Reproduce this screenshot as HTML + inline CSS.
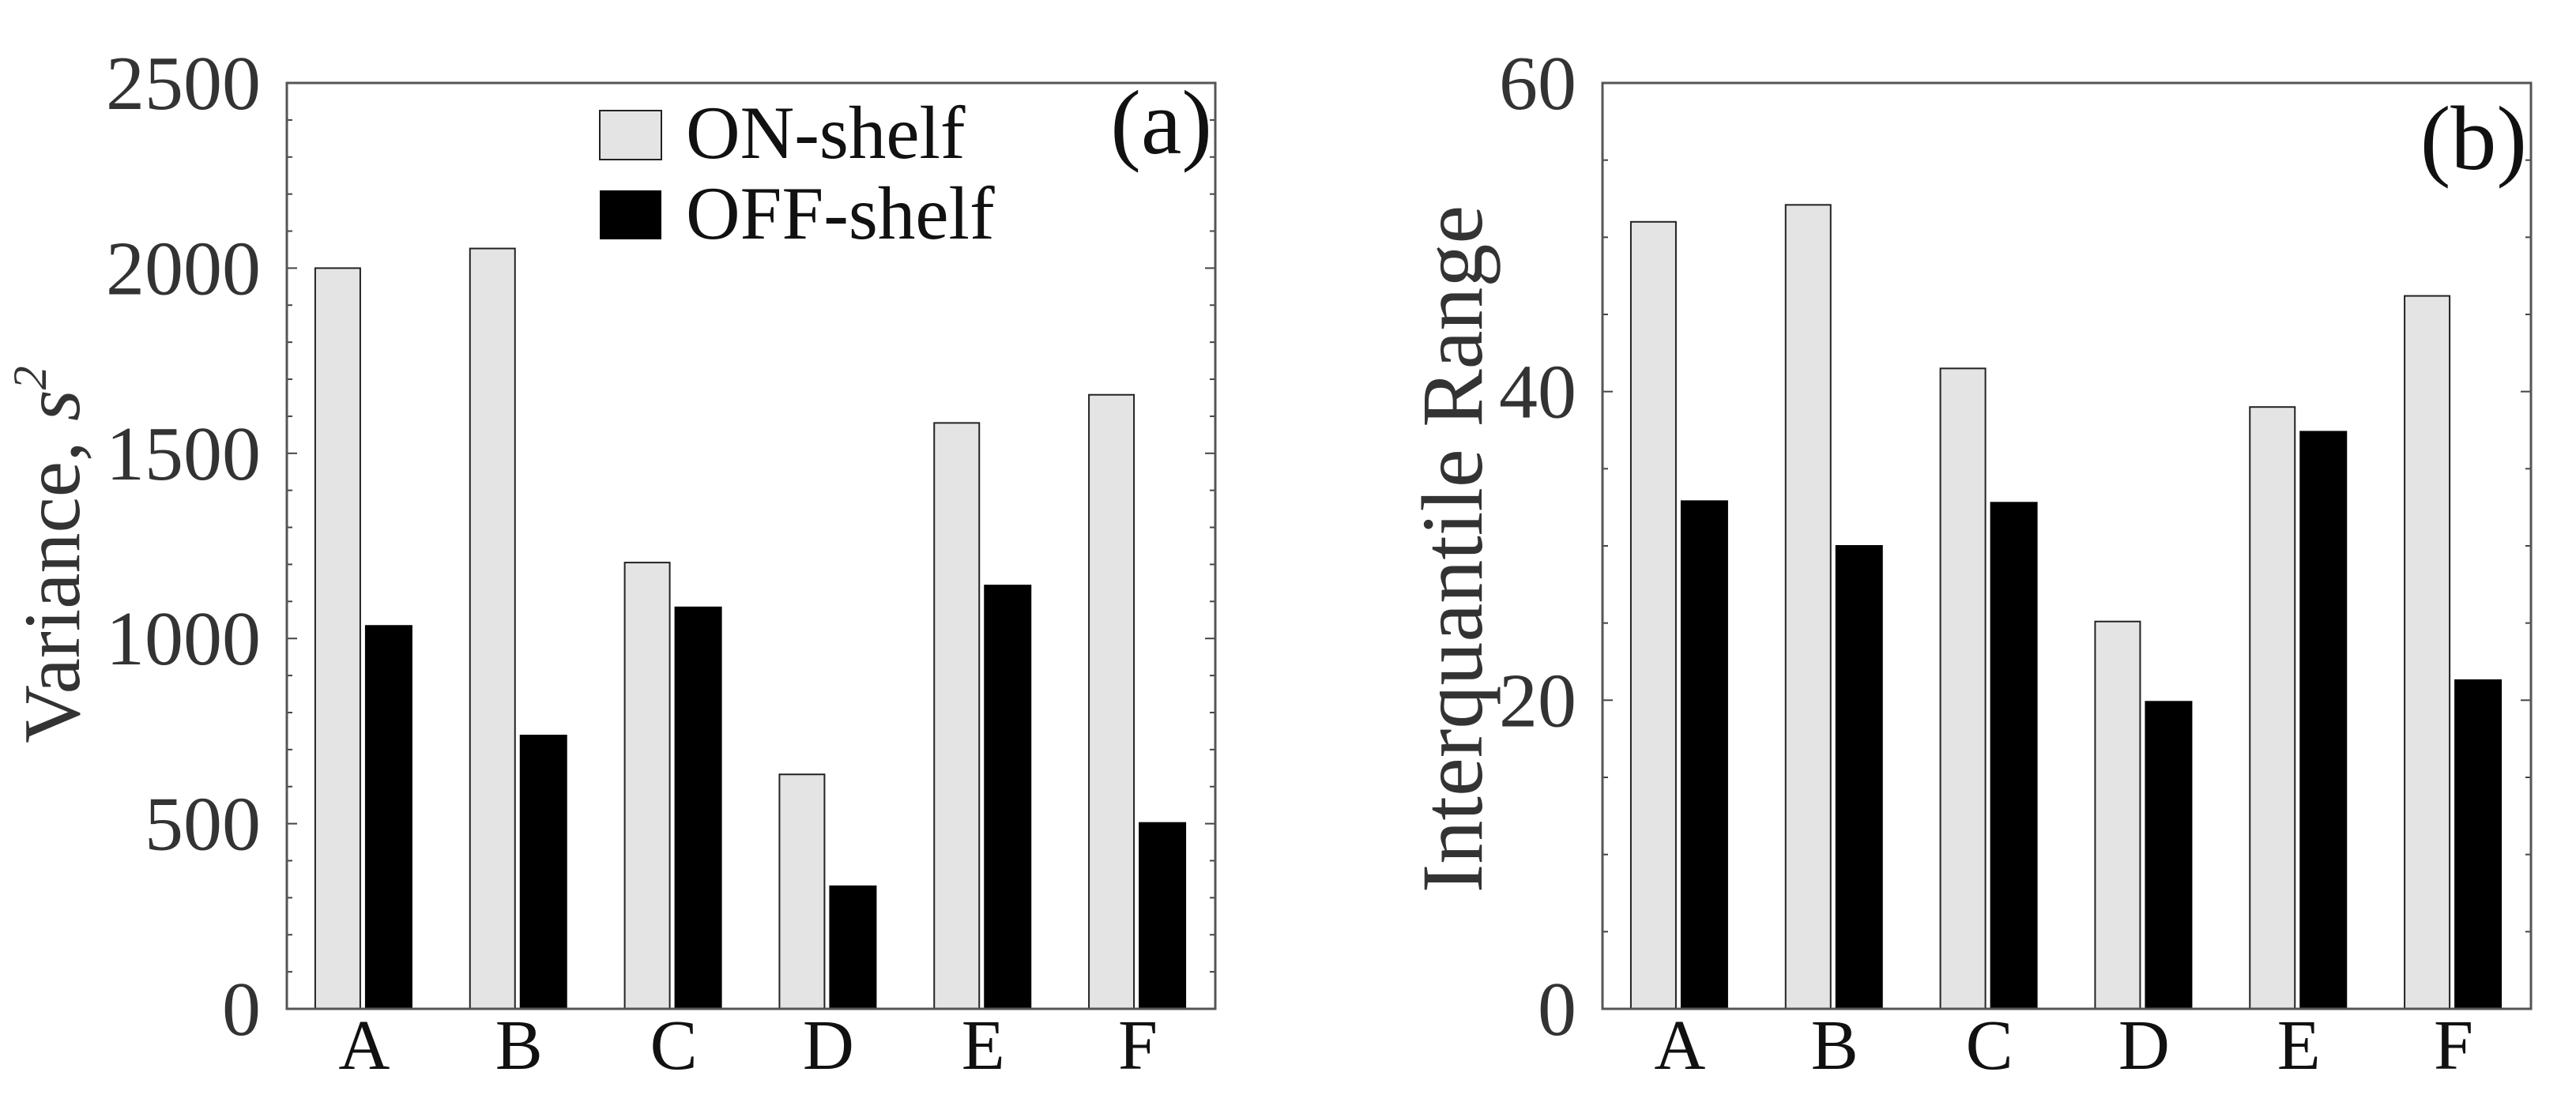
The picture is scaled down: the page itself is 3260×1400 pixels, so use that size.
<!DOCTYPE html>
<html><head><meta charset="utf-8"><style>
html,body{margin:0;padding:0;background:#fff;}
svg{display:block;}
text{font-family:"Liberation Serif",serif;}
</style></head><body>
<svg id="chart" width="3260" height="1400" viewBox="0 0 3260 1400" xmlns="http://www.w3.org/2000/svg"></svg>
<script>
const categories = ['A','B','C','D','E','F'];
const varianceOn = [2000, 2053, 1205, 633, 1582, 1658];
const varianceOff = [1034, 738, 1084, 331, 1143, 502];
const iqrOn = [51.0, 52.1, 41.5, 25.1, 39.0, 46.2];
const iqrOff = [32.9, 30.0, 32.8, 19.9, 37.4, 21.3];
const varianceTicks = [0, 500, 1000, 1500, 2000, 2500];
const iqrTicks = [0, 20, 40, 60];

const NS = 'http://www.w3.org/2000/svg';
const svg = document.getElementById('chart');
function mk(tag, attrs, parent) {
  const e = document.createElementNS(NS, tag);
  for (const k in attrs) e.setAttribute(k, attrs[k]);
  (parent || svg).appendChild(e);
  return e;
}

function panel(opts) {
  const g = mk('g', {});
  
  
  const L = opts.left, R = opts.right, T = 105, B = 1277;
  const y = v => B - (v - opts.min) / (opts.max - opts.min) * (B - T);
  const step = (R - L) / categories.length;
  const cx = i => L + step * (i + 0.5);
  categories.forEach((c, i) => {
    const on = mk('rect', {x: cx(i) - 62, y: y(opts.on[i]), width: 57, height: B - y(opts.on[i]), fill: '#e4e4e4', stroke: '#222', 'stroke-width': 2}, g);
    
    
    const off = mk('rect', {x: cx(i) + 2, y: y(opts.off[i]), width: 58, height: B - y(opts.off[i]), fill: '#000', stroke: '#000', 'stroke-width': 2}, g);
    
    
    const t = mk('text', {x: cx(i), y: 1353, 'font-size': 90, 'text-anchor': 'middle', fill: '#111'}, g);
    t.textContent = c;
    
    
  });
  for (let v = opts.min; v <= opts.max + 1e-9; v += opts.minor) {
    const major = Math.abs(v / opts.majorStep - Math.round(v / opts.majorStep)) < 1e-6;
    const len = major ? 13 : 7;
    mk('line', {x1: L, x2: L + len, y1: y(v), y2: y(v), stroke: '#444', 'stroke-width': 2}, g);
    mk('line', {x1: R, x2: R - len, y1: y(v), y2: y(v), stroke: '#444', 'stroke-width': 2}, g);
  }
  opts.ticks.forEach(v => {
    const t = mk('text', {x: L - 33, y: y(v) + 33, 'font-size': 98, 'text-anchor': 'end', fill: '#333'}, g);
    t.textContent = v;
    
    
  });
  const frame = mk('rect', {x: L, y: T, width: R - L, height: B - T, fill: 'none', stroke: '#555', 'stroke-width': 3}, g);
  
  
  return {g, L, R, T, B};
}

const pa = panel({name: 'panel-a', left: 363, right: 1538, min: 0, max: 2500, minor: 100, majorStep: 500, ticks: varianceTicks, on: varianceOn, off: varianceOff});
const pb = panel({name: 'panel-b', left: 2028, right: 3203, min: 0, max: 60, minor: 5, majorStep: 20, ticks: iqrTicks, on: iqrOn, off: iqrOff});

let t = mk('text', {transform: 'translate(100,702) rotate(-90)', 'font-size': 102, 'text-anchor': 'middle', fill: '#333'});
t.innerHTML = 'Variance, <tspan font-style="italic">s</tspan><tspan font-size="60" dy="-42" font-style="italic">2</tspan>';


t = mk('text', {transform: 'translate(1875,695) rotate(-90)', 'font-size': 110, 'text-anchor': 'middle', fill: '#333'});
t.textContent = 'Interquantile Range';



t = mk('text', {x: 1534, y: 194, 'font-size': 116, 'text-anchor': 'end', fill: '#111'});
t.textContent = '(a)';


t = mk('text', {x: 3198, y: 214, 'font-size': 116, 'text-anchor': 'end', fill: '#111'});
t.textContent = '(b)';



const lg = mk('g', {});


let r = mk('rect', {x: 759, y: 140, width: 78, height: 62, fill: '#e4e4e4', stroke: '#222', 'stroke-width': 2}, lg);


t = mk('text', {x: 868, y: 200, 'font-size': 95, fill: '#111'}, lg);
t.textContent = 'ON-shelf';


r = mk('rect', {x: 759, y: 241, width: 78, height: 62, fill: '#000'}, lg);


t = mk('text', {x: 868, y: 302, 'font-size': 95, fill: '#111'}, lg);
t.textContent = 'OFF-shelf';


</script>
</body></html>
